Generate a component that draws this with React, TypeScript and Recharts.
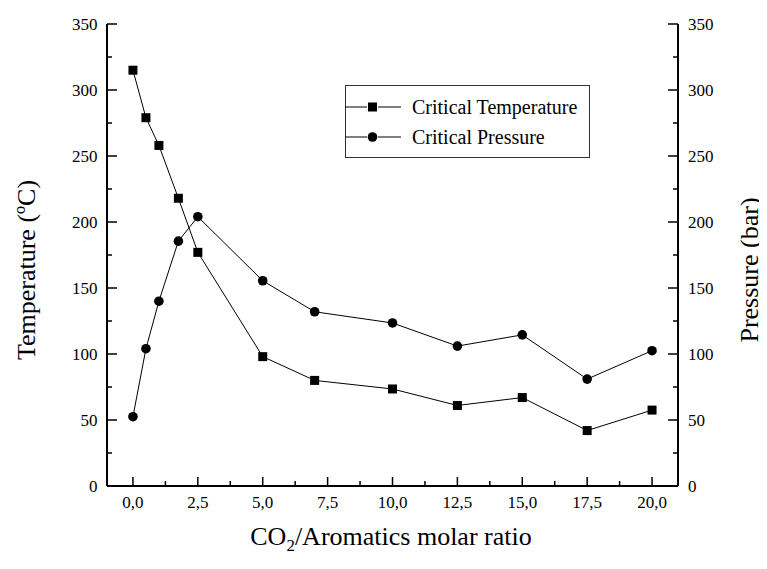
import React from "react";
import { LineChart, Line, XAxis, YAxis, Legend } from "recharts";

const ratio = [0, 0.5, 1, 1.75, 2.5, 5, 7, 10, 12.5, 15, 17.5, 20];
const critTemp = [315, 279, 258, 218, 177, 98, 80, 73.5, 61, 67, 42, 57.5];
const critPress = [52.5, 104, 140, 185.5, 204, 155.5, 132, 123.5, 106, 114.5, 81, 102.5];

const xTicks = [0, 1.25, 2.5, 3.75, 5, 6.25, 7.5, 8.75, 10, 11.25, 12.5, 13.75, 15, 16.25, 17.5, 18.75, 20];
const yTicks = [0, 25, 50, 75, 100, 125, 150, 175, 200, 225, 250, 275, 300, 325, 350];

const data = ratio.map((r, i) => ({ ratio: r, temp: critTemp[i], press: critPress[i] }));

const FONT = '"Liberation Serif", "Times New Roman", serif';
const txt = { fontFamily: FONT, fill: "#000" };

const isMajorX = (v: number) => Math.abs(v / 2.5 - Math.round(v / 2.5)) < 1e-6;
const isMajorY = (v: number) => v % 50 === 0;

const BottomTick = (p: any) => {
  const { x, y, payload } = p;
  const major = isMajorX(payload.value);
  return (
    <g>
      <line x1={x} x2={x} y1={y} y2={y - (major ? 9 : 5)} stroke="#000" strokeWidth={1.5} />
      {major && (
        <text x={x} y={y + 22} textAnchor="middle" fontSize={17} style={txt}>
          {payload.value.toFixed(1).replace(".", ",")}
        </text>
      )}
    </g>
  );
};

const TopTick = (p: any) => {
  const { x, y } = p;
  return <line x1={x} x2={x} y1={y} y2={y + 4} stroke="#000" strokeWidth={1.5} />;
};

const LeftTick = (p: any) => {
  const { x, y, payload } = p;
  const major = isMajorY(payload.value);
  return (
    <g>
      <line x1={x} x2={x + (major ? 10 : 5)} y1={y} y2={y} stroke="#000" strokeWidth={1.5} />
      {major && (
        <text x={x - 9.5} y={y + 6} textAnchor="end" fontSize={17} style={txt}>
          {payload.value}
        </text>
      )}
    </g>
  );
};

const RightTick = (p: any) => {
  const { x, y, payload } = p;
  const major = isMajorY(payload.value);
  return (
    <g>
      <line x1={x} x2={x - (major ? 10 : 5)} y1={y} y2={y} stroke="#000" strokeWidth={1.5} />
      {major && (
        <text x={x + 10} y={y + 6} textAnchor="start" fontSize={17} style={txt}>
          {payload.value}
        </text>
      )}
    </g>
  );
};

const SquareDot = (p: any) => {
  const { cx, cy, index } = p;
  if (cx == null || cy == null) return <g key={index} />;
  return <rect key={index} x={cx - 4.5} y={cy - 4.5} width={9} height={9} fill="#000" />;
};

const CircleDot = (p: any) => {
  const { cx, cy, index } = p;
  if (cx == null || cy == null) return <g key={index} />;
  return <circle key={index} cx={cx} cy={cy} r={4.8} fill="#000" />;
};

const LegendBox = () => {
  const rows = [
    { name: "Critical Temperature", shape: "square" },
    { name: "Critical Pressure", shape: "circle" },
  ];
  return (
    <div
      style={{
        width: 245,
        height: 73,
        boxSizing: "border-box",
        border: "1px solid #333",
        paddingTop: 6,
        fontFamily: FONT,
        fontSize: 20,
        color: "#000",
      }}
    >
      {rows.map((r) => (
        <div key={r.name} style={{ display: "flex", alignItems: "center", height: 30 }}>
          <svg width={56} height={12} style={{ marginRight: 11, marginLeft: -1 }}>
            <line x1={0} x2={22} y1={6} y2={6} stroke="#000" strokeWidth={1} />
            <line x1={33} x2={56} y1={6} y2={6} stroke="#000" strokeWidth={1} />
            {r.shape === "square" ? (
              <rect x={23} y={1.5} width={9} height={9} fill="#000" />
            ) : (
              <circle cx={27.5} cy={6} r={4.8} fill="#000" />
            )}
          </svg>
          <span>{r.name}</span>
        </div>
      ))}
    </div>
  );
};

export default function App() {
  return (
    <LineChart
      width={759}
      height={553}
      data={data}
      margin={{ top: 16, right: 0, bottom: 0, left: 0 }}
    >
      <XAxis
        xAxisId="b"
        dataKey="ratio"
        type="number"
        domain={[-1, 21]}
        ticks={xTicks}
        interval={0}
        height={75}
        tickSize={0}
        tickMargin={0}
        tickLine={false}
        tick={BottomTick}
        axisLine={{ stroke: "#000", strokeWidth: 2 }}
        label={{
          content: () => (
            <text x={383} y={537} textAnchor="middle" fontSize={26} style={txt}>
              CO
              <tspan fontSize={17} dy={6}>2</tspan>
              <tspan dy={-6}>/Aromatics molar ratio</tspan>
            </text>
          ),
        }}
      />
      <XAxis
        xAxisId="t"
        orientation="top"
        dataKey="ratio"
        type="number"
        domain={[-1, 21]}
        ticks={xTicks}
        interval={0}
        height={0}
        tickSize={0}
        tickMargin={0}
        tickLine={false}
        tick={TopTick}
        axisLine={{ stroke: "#000", strokeWidth: 2 }}
      />
      <YAxis
        yAxisId="L"
        domain={[0, 350]}
        ticks={yTicks}
        interval={0}
        width={99}
        tickSize={0}
        tickMargin={0}
        tickLine={false}
        tick={LeftTick}
        axisLine={{ stroke: "#000", strokeWidth: 2 }}
        label={{
          content: () => (
            <text
              x={27}
              y={262}
              transform="rotate(-90 27 262)"
              textAnchor="middle"
              fontSize={26}
              style={txt}
            >
              Temperature (ºC)
            </text>
          ),
        }}
      />
      <YAxis
        yAxisId="R"
        orientation="right"
        domain={[0, 350]}
        ticks={yTicks}
        interval={0}
        width={89}
        tickSize={0}
        tickMargin={0}
        tickLine={false}
        tick={RightTick}
        axisLine={{ stroke: "#000", strokeWidth: 2 }}
        label={{
          content: () => (
            <text
              x={750}
              y={262}
              transform="rotate(-90 750 262)"
              textAnchor="middle"
              fontSize={26}
              style={txt}
            >
              Pressure (bar)
            </text>
          ),
        }}
      />
      <Legend
        layout="vertical"
        align="center"
        verticalAlign="middle"
        content={LegendBox}
        wrapperStyle={{ left: 337, top: 77, width: 245 }}
      />
      <Line
        xAxisId="b"
        yAxisId="L"
        dataKey="temp"
        name="Critical Temperature"
        stroke="#000"
        strokeWidth={1}
        dot={SquareDot}
        activeDot={false}
        isAnimationActive={false}
      />
      <Line
        xAxisId="b"
        yAxisId="R"
        dataKey="press"
        name="Critical Pressure"
        stroke="#000"
        strokeWidth={1}
        dot={CircleDot}
        activeDot={false}
        isAnimationActive={false}
      />
    </LineChart>
  );
}
